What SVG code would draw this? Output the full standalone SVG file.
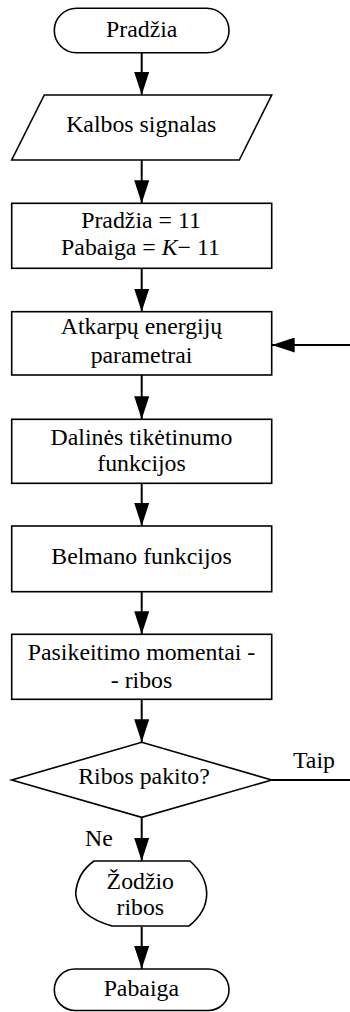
<svg xmlns="http://www.w3.org/2000/svg" width="350" height="1012" viewBox="0 0 350 1012">
  <style>
    .shape { fill: #ffffff; stroke: #000000; stroke-width: 1.6; }
    .label { font-family: 'Liberation Serif', serif; font-size: 23.8px; fill: #000000; text-anchor: middle; }
    .edge { fill: none; stroke: #000000; stroke-width: 2; }
  </style>
  <defs>
    <marker id="arrow" markerUnits="userSpaceOnUse" markerWidth="23" markerHeight="15" viewBox="0 0 23 15" refX="23" refY="7.5" orient="auto">
      <path d="M0,0 L23,7.5 L0,15 Z" fill="#000000"/>
    </marker>
  </defs>

  <!-- connectors -->
  <g id="connectors">
    <line class="edge" x1="141.7" y1="52.7" x2="141.7" y2="95" marker-end="url(#arrow)"/>
    <line class="edge" x1="141.7" y1="160" x2="141.7" y2="203.3" marker-end="url(#arrow)"/>
    <line class="edge" x1="141.7" y1="268.3" x2="141.7" y2="311.7" marker-end="url(#arrow)"/>
    <line class="edge" x1="350" y1="345" x2="271.7" y2="345" marker-end="url(#arrow)"/>
    <line class="edge" x1="141.7" y1="375" x2="141.7" y2="419.3" marker-end="url(#arrow)"/>
    <line class="edge" x1="141.7" y1="483.3" x2="141.7" y2="526" marker-end="url(#arrow)"/>
    <line class="edge" x1="141.7" y1="591.7" x2="141.7" y2="634.3" marker-end="url(#arrow)"/>
    <line class="edge" x1="141.7" y1="699.3" x2="141.7" y2="742.3" marker-end="url(#arrow)"/>
    <line class="edge" x1="271.7" y1="780" x2="350" y2="780"/>
    <line class="edge" x1="141.7" y1="817.3" x2="141.7" y2="861" marker-end="url(#arrow)"/>
    <line class="edge" x1="141.7" y1="926.7" x2="141.7" y2="969" marker-end="url(#arrow)"/>
    <text class="label" x="293" y="768" style="text-anchor:start">Taip</text>
    <text class="label" x="85" y="846" style="text-anchor:start">Ne</text>
  </g>

  <g id="start">
    <rect class="shape" x="54.3" y="8.3" width="174.7" height="44.4" rx="22.2" ry="22.2"/>
    <text class="label" x="141.7" y="36.7">Pradžia</text>
  </g>

  <g id="input">
    <polygon class="shape" points="44.3,95 271.7,95 239.3,160 11.7,160"/>
    <text class="label" x="141.2" y="132">Kalbos signalas</text>
  </g>

  <g id="init">
    <rect class="shape" x="11.7" y="203.3" width="260" height="65"/>
    <text class="label" x="141" y="228">Pradžia = 11</text>
    <text class="label" x="140.5" y="255">Pabaiga = <tspan font-style="italic">K</tspan>− 11</text>
  </g>

  <g id="energy">
    <rect class="shape" x="11.7" y="311.7" width="260" height="63.3"/>
    <text class="label" x="141.5" y="334">Atkarpų energijų</text>
    <text class="label" x="141.5" y="363">parametrai</text>
  </g>

  <g id="likelihood">
    <rect class="shape" x="11.7" y="419.3" width="260" height="64"/>
    <text class="label" x="141.5" y="445">Dalinės tikėtinumo</text>
    <text class="label" x="141.5" y="470.5">funkcijos</text>
  </g>

  <g id="bellman">
    <rect class="shape" x="11.7" y="526" width="260" height="65.7"/>
    <text class="label" x="141.5" y="563.5">Belmano funkcijos</text>
  </g>

  <g id="moments">
    <rect class="shape" x="11.7" y="634.3" width="260" height="65"/>
    <text class="label" x="141.5" y="660">Pasikeitimo momentai -</text>
    <text class="label" x="141.5" y="687.5">- ribos</text>
  </g>

  <g id="decision">
    <polygon class="shape" points="141.7,742.3 271.7,780 141.7,817.3 11.7,780"/>
    <text class="label" x="144" y="784">Ribos pakito?</text>
  </g>

  <!-- display symbol: curved left side, bevelled right side -->
  <g id="display">
    <path class="shape" d="M94,861 L190,861 Q206.7,876 206.7,893.8 Q206.7,912 189,926 L112,926 Q77,916 75.7,893.8 Q77,873 94,861 Z"/>
    <text class="label" x="140.3" y="888.5">Žodžio</text>
    <text class="label" x="140.3" y="915">ribos</text>
  </g>

  <g id="end">
    <rect class="shape" x="54.3" y="969" width="174.7" height="41.5" rx="20.7" ry="20.7"/>
    <text class="label" x="141.3" y="995.5">Pabaiga</text>
  </g>
</svg>
